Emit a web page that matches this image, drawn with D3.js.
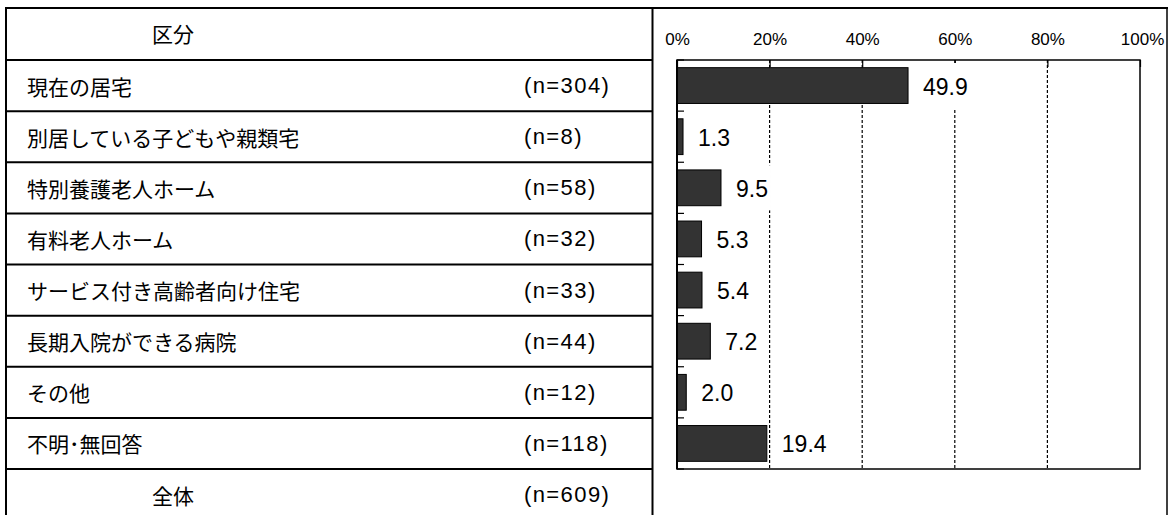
<!DOCTYPE html>
<html>
<head>
<meta charset="utf-8">
<script src="https://cdn.jsdelivr.net/npm/d3@7"></script>
<style>
  html, body { margin: 0; padding: 0; background: #fff; }
  svg { display: block; }
</style>
</head>
<body>
<svg id="chart" width="1168" height="515"></svg>
<script>
// ---- data ----
const categories = ["現在の居宅", "別居している子どもや親類宅", "特別養護老人ホーム", "有料老人ホーム",
  "サービス付き高齢者向け住宅", "長期入院ができる病院", "その他", "不明･無回答"];
const counts = [304, 8, 58, 32, 33, 44, 12, 118];
const values = [49.9, 1.3, 9.5, 5.3, 5.4, 7.2, 2.0, 19.4];
const totalLabel = "全体";
const totalCount = 609;
const headerLabel = "区分";
const tickValues = [0, 20, 40, 60, 80, 100];

// ---- layout ----
const W = 1168, H = 515;
const tableLeft = 6, tableTop = 8, divider = 652.5, right = 1167;
const plotLeft = 677, plotRight = 1140, plotTop = 60, plotBottom = 469;

const svg = d3.select("#chart");
const jpFont = "'Noto Sans CJK JP', 'Noto Sans', sans-serif";
const numFont = "'Liberation Sans', Arial, sans-serif";

const rowKeys = ["__header"].concat(categories, ["__total"]);
const rowH = (plotBottom - plotTop) / categories.length;
const rowScale = d3.scaleBand()
  .domain(rowKeys)
  .range([plotTop - rowH, plotTop - rowH + rowKeys.length * rowH]);

const x = d3.scaleLinear().domain([0, 100]).range([plotLeft, plotRight]);
const y = d3.scaleBand().domain(categories).range([plotTop, plotBottom])
  .paddingInner(0.3).paddingOuter(0.15);

// ---- table lines ----
const g = svg.append("g");
g.append("line").attr("x1", tableLeft).attr("x2", W).attr("y1", tableTop).attr("y2", tableTop)
  .attr("stroke", "#000").attr("stroke-width", 2);
g.append("line").attr("x1", tableLeft).attr("x2", tableLeft).attr("y1", tableTop - 1).attr("y2", H)
  .attr("stroke", "#000").attr("stroke-width", 2);
g.append("line").attr("x1", divider).attr("x2", divider).attr("y1", tableTop - 1).attr("y2", H)
  .attr("stroke", "#000").attr("stroke-width", 2);
g.append("line").attr("x1", right).attr("x2", right).attr("y1", tableTop - 1).attr("y2", H)
  .attr("stroke", "#000").attr("stroke-width", 1.5);
const sepYs = rowKeys.slice(1).map(k => rowScale(k));
g.selectAll("line.sep").data(sepYs).join("line")
  .attr("class", "sep")
  .attr("x1", tableLeft).attr("x2", divider)
  .attr("y1", d => d).attr("y2", d => d)
  .attr("stroke", "#000").attr("stroke-width", 2);

// header text
g.append("text")
  .attr("x", 173).attr("y", (tableTop + rowScale("__header") + rowScale.bandwidth()) / 2 - 1)
  .attr("text-anchor", "middle").attr("dominant-baseline", "central")
  .attr("font-family", jpFont).attr("font-size", 21).attr("fill", "#000")
  .text(headerLabel);

// category labels
g.selectAll("text.cat").data(categories).join("text")
  .attr("class", "cat")
  .attr("x", 27).attr("y", d => rowScale(d) + rowScale.bandwidth() / 2)
  .attr("dominant-baseline", "central")
  .attr("font-family", jpFont).attr("font-size", 21).attr("fill", "#000")
  .text(d => d);

g.selectAll("text.cnt").data(counts).join("text")
  .attr("class", "cnt")
  .attr("x", 524).attr("y", (d, i) => rowScale(categories[i]) + rowScale.bandwidth() / 2)
  .attr("dominant-baseline", "central")
  .attr("font-family", numFont).attr("font-size", 22).attr("letter-spacing", 1.4).attr("fill", "#000")
  .text(d => `(n=${d})`);

// total row
g.append("text")
  .attr("x", 173).attr("y", rowScale("__total") + rowScale.bandwidth() / 2)
  .attr("text-anchor", "middle").attr("dominant-baseline", "central")
  .attr("font-family", jpFont).attr("font-size", 21).attr("fill", "#000")
  .text(totalLabel);
g.append("text")
  .attr("x", 524).attr("y", rowScale("__total") + rowScale.bandwidth() / 2)
  .attr("dominant-baseline", "central")
  .attr("font-family", numFont).attr("font-size", 22).attr("letter-spacing", 1.4).attr("fill", "#000")
  .text(`(n=${totalCount})`);

// ---- chart ----
const c = svg.append("g");

c.selectAll("line.grid").data(tickValues.filter(t => t > 0 && t < 100)).join("line")
  .attr("class", "grid")
  .attr("x1", d => x(d)).attr("x2", d => x(d))
  .attr("y1", plotTop).attr("y2", plotBottom)
  .attr("stroke", "#000").attr("stroke-width", 1.2).attr("stroke-dasharray", "3,2");

const topAxis = d3.axisTop(x).tickValues(tickValues).tickSize(-7).tickFormat(d => d + "%").tickPadding(15);
const ta = c.append("g").attr("transform", `translate(0,${plotTop})`).call(topAxis);
ta.select(".domain").remove();
ta.selectAll(".tick line").attr("stroke", "#000").attr("stroke-width", 1.2);
ta.selectAll(".tick text").attr("font-family", numFont).attr("font-size", 17).attr("fill", "#000")
  .attr("dy", "0");
ta.selectAll(".tick").filter(d => d === 100).select("text").attr("dx", 2);

c.selectAll("rect.bar").data(values).join("rect")
  .attr("class", "bar")
  .attr("x", x(0))
  .attr("y", (d, i) => y(categories[i]))
  .attr("width", d => x(d) - x(0))
  .attr("height", y.bandwidth())
  .attr("fill", "#333333").attr("stroke", "#000").attr("stroke-width", 1);

const lab = c.selectAll("g.lab").data(values).join("g").attr("class", "lab");
lab.append("text")
  .attr("x", d => x(d) + 15)
  .attr("y", (d, i) => y(categories[i]) + y.bandwidth() / 2 + 1)
  .attr("dominant-baseline", "central")
  .attr("font-family", numFont).attr("font-size", 23).attr("fill", "#000")
  .text(d => d.toFixed(1));
lab.each(function(d, i) {
  const t = d3.select(this).select("text");
  const bb = t.node().getBBox();
  const step = y.step();
  const top = y(categories[i]) - y.paddingInner() * step / 2;
  d3.select(this).insert("rect", "text")
    .attr("x", bb.x - 3).attr("width", bb.width + 6)
    .attr("y", top + 3).attr("height", step - 6)
    .attr("fill", "#fff");
});

const boundaries = d3.range(categories.length + 1).map(i => plotTop + i * y.step());
c.selectAll("line.ctick").data(boundaries).join("line")
  .attr("class", "ctick")
  .attr("x1", plotLeft).attr("x2", plotLeft + 7)
  .attr("y1", d => d).attr("y2", d => d)
  .attr("stroke", "#000").attr("stroke-width", 1.2);

c.append("rect")
  .attr("x", plotLeft).attr("y", plotTop)
  .attr("width", plotRight - plotLeft).attr("height", plotBottom - plotTop)
  .attr("fill", "none").attr("stroke", "#000").attr("stroke-width", 1.5);
c.append("line").attr("x1", plotLeft).attr("x2", plotLeft).attr("y1", plotTop).attr("y2", plotBottom)
  .attr("stroke", "#000").attr("stroke-width", 2);
</script>
</body>
</html>
